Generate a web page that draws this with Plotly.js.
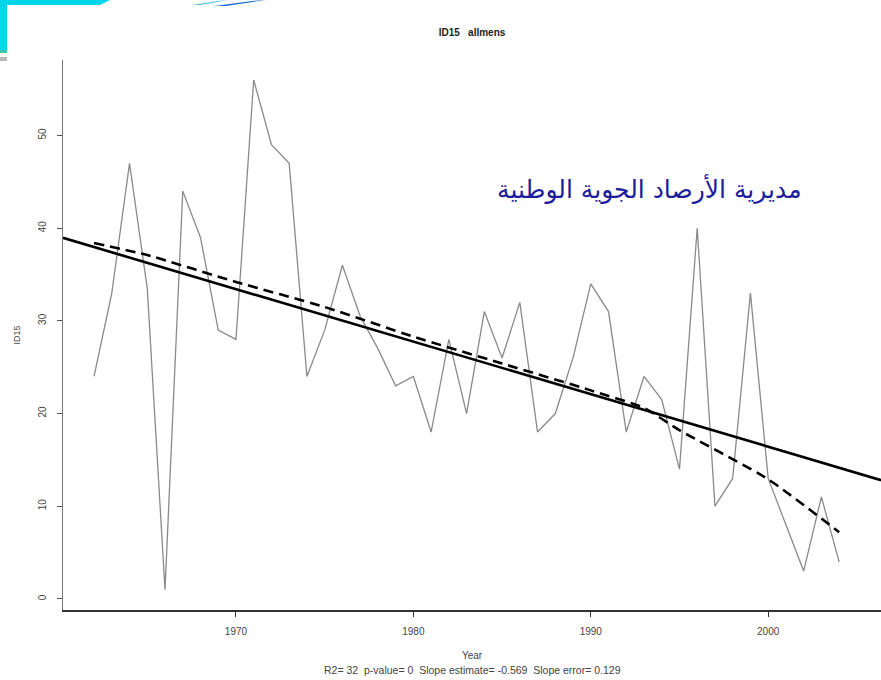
<!DOCTYPE html>
<html>
<head>
<meta charset="utf-8">
<script src="https://cdn.plot.ly/plotly-3.0.1.min.js"></script>
<style>
html,body{margin:0;padding:0;background:#fff;}
#chart{width:881px;height:680px;}
</style>
</head>
<body>
<div id="chart"></div>
<script>
// ---- data ----
const years = [1962,1963,1964,1965,1966,1967,1968,1969,1970,1971,1972,1973,1974,1975,1976,1977,1978,1979,1980,1981,1982,1983,1984,1985,1986,1987,1988,1989,1990,1991,1992,1993,1994,1995,1996,1997,1998,1999,2000,2001,2002,2003,2004];
const id15 = [24,33,47,33.5,1,44,39,29,28,56,49,47,24,29,36,30.5,27,23,24,18,28,20,31,26,32,18,20,26,34,31,18,24,21.5,14,40,10,13,33,13,8,3,11,4];
// smoothed (dashed) curve
const smoothYears = [1962,1965,1970,1975,1980,1985,1990,1993,1995,2000,2004];
const smoothVals  = [38.4,37.1,34.2,31.5,28.3,25.4,22.5,20.6,18.2,12.9,7.2];
const xTicks = [1970,1980,1990,2000];
const yTicks = [0,10,20,30,40,50];
const xRange = [1960.25, 2006.36];
const yRange = [-1.2, 58.15];
const titleText = "ID15   allmens";
const yTitle = "ID15";
const xTitle = "Year";
const statsText = "R2= 32  p-value= 0  Slope estimate= -0.569  Slope error= 0.129";
const arabicText = "مديرية الأرصاد الجوية الوطنية";

// least-squares trend line from the data
const n = years.length;
const mx = years.reduce((a,b)=>a+b,0)/n;
const my = id15.reduce((a,b)=>a+b,0)/n;
let sxy=0, sxx=0;
for(let i=0;i<n;i++){ sxy+=(years[i]-mx)*(id15[i]-my); sxx+=(years[i]-mx)*(years[i]-mx); }
const slope = sxy/sxx, icpt = my - slope*mx;
const trendX = [xRange[0], xRange[1]];
const trendY = trendX.map(x=>icpt+slope*x);

// pixel -> paper helpers for page decorations
const W=881,H=680,L=63,R=0,T=60,B=70;
const pw=W-L-R, ph=H-T-B;
const px=x=>(x-L)/pw, py=y=>(H-B-y)/ph;
function path(pts){ return 'M'+pts.map(p=>px(p[0])+','+py(p[1])).join('L')+'Z'; }

const traces = [
  {x:years, y:id15, type:'scatter', mode:'lines', line:{color:'#8a8a8a', width:1.3}, hoverinfo:'x+y'},
  {x:trendX, y:trendY, type:'scatter', mode:'lines', line:{color:'#000', width:2.6}},
  {x:smoothYears, y:smoothVals, type:'scatter', mode:'lines', line:{color:'#000', width:2.6, dash:'10px,6px', shape:'spline', smoothing:0.6}}
];

const font = {family:'Liberation Sans, Arial, sans-serif', size:10, color:'#333'};
const layout = {
  width:W, height:H,
  margin:{l:L, r:R, t:T, b:B, pad:0},
  paper_bgcolor:'#fff', plot_bgcolor:'#fff',
  showlegend:false,
  font:font,
  title:{text:titleText, x:0.5, xref:'paper', y:1-32/H, yanchor:'middle',
         font:{family:'Liberation Sans, Arial, sans-serif', size:10, color:'#222', weight:'bold'}},
  xaxis:{range:xRange, tickvals:xTicks, ticks:'outside', ticklen:5, tickwidth:1, tickcolor:'#333',
         showgrid:false, zeroline:false, showline:true, linecolor:'#333', linewidth:1.5,
         ticklabelstandoff:6, tickfont:{size:10, color:'#444'},
         title:{text:xTitle, font:{size:10, color:'#444'}, standoff:16}},
  yaxis:{range:yRange, tickvals:yTicks, ticks:'outside', ticklen:5, tickwidth:1, tickcolor:'#555',
         showgrid:false, zeroline:false, showline:true, linecolor:'#777', linewidth:1.5,
         tickangle:-90, ticklabelstandoff:7, tickfont:{size:10, color:'#444'},
         title:{text:yTitle, font:{size:9, color:'#444'}, standoff:14}},
  annotations:[
    {text:statsText, xref:'paper', yref:'paper', x:0.5, y:py(670), xanchor:'center', yanchor:'middle',
     showarrow:false, font:{size:10.5, color:'#444'}},
    {text:arabicText, xref:'paper', yref:'paper', x:px(649), y:py(188), xanchor:'center', yanchor:'middle',
     showarrow:false, font:{family:'DejaVu Sans, Noto Sans, sans-serif', size:25, color:'#1c1c9c'}}
  ],
  shapes:[
    {type:'path', xref:'paper', yref:'paper', path:path([[0,0],[110,0],[100,5],[7,5],[7,50],[0,50]]), fillcolor:'#00d6e8', line:{width:0}},
    {type:'path', xref:'paper', yref:'paper', path:path([[0,50],[7,50],[7,53],[0,53]]), fillcolor:'#38c8a8', line:{width:0}},
    {type:'path', xref:'paper', yref:'paper', path:path([[0,57],[7,57],[7,61],[0,61]]), fillcolor:'#b8b8b8', line:{width:0}},
    {type:'path', xref:'paper', yref:'paper', path:path([[192,5],[218,1],[228,0],[200,5]]), fillcolor:'#3cbcd8', line:{width:0}},
    {type:'path', xref:'paper', yref:'paper', path:path([[214,6],[252,1],[266,0],[226,6]]), fillcolor:'#1f6fd0', line:{width:0}}
  ]
};

Plotly.newPlot('chart', traces, layout, {staticPlot:true, displayModeBar:false});
</script>
</body>
</html>
